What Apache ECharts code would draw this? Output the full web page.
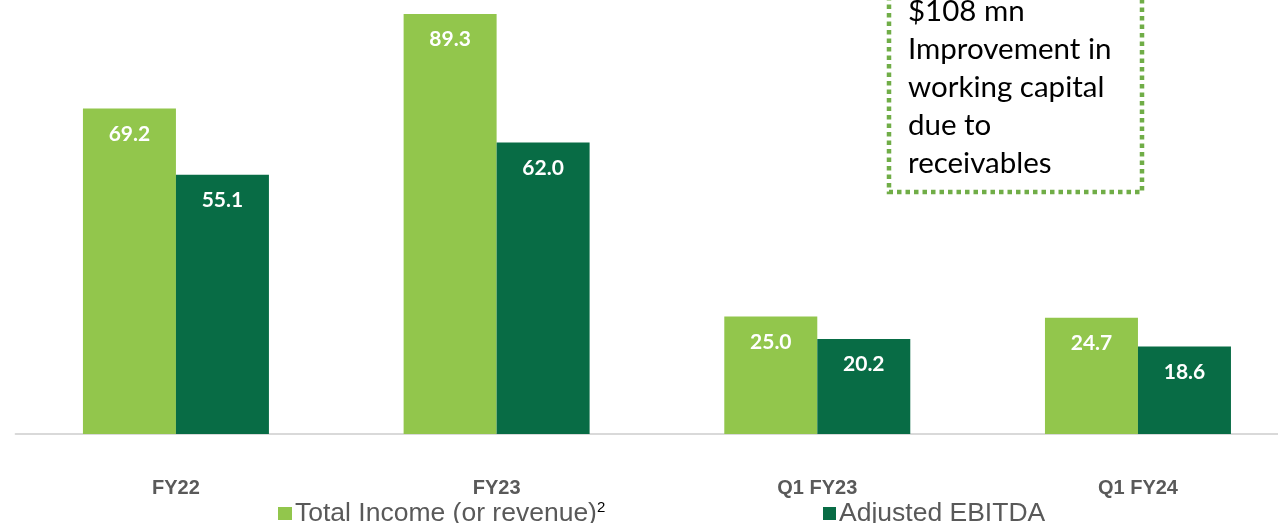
<!DOCTYPE html>
<html>
<head>
<meta charset="utf-8">
<script src="https://cdn.jsdelivr.net/npm/echarts@6/dist/echarts.min.js"></script>
<style>
  html, body { margin: 0; padding: 0; background: #fff; }
  #main { width: 1278px; height: 523px; }
</style>
</head>
<body>
<div id="main"></div>
<script>
// chart data
const categories = ['FY22', 'FY23', 'Q1 FY23', 'Q1 FY24'];
const totalIncome = [69.2, 89.3, 25.0, 24.7];
const adjustedEbitda = [55.1, 62.0, 20.2, 18.6];
const noteLines = ['$108 mn', 'Improvement in', 'working capital', 'due to', 'receivables'];

const lightGreen = '#92C64C';
const darkGreen = '#086C45';

const chart = echarts.init(document.getElementById('main'));

const barLabel = {
  show: true,
  position: 'insideTop',
  distance: 15,
  color: '#fff',
  fontFamily: 'Lato',
  fontWeight: 'bold',
  fontSize: 21,
  formatter: p => p.value.toFixed(1)
};

chart.setOption({
  animation: false,
  // plot area runs a bit past the right edge, like the original slide
  grid: { left: 15.6, width: 1282.7, top: 0, bottom: 89, containLabel: false, outerBoundsMode: 'none' },
  xAxis: {
    type: 'category',
    data: categories,
    axisLine: { lineStyle: { color: '#d9d9d9', width: 2 } },
    axisTick: { show: false },
    axisLabel: {
      margin: 44,
      color: '#595959',
      fontFamily: 'Liberation Sans',
      fontWeight: 'bold',
      fontSize: 20
    }
  },
  yAxis: {
    type: 'value',
    min: 0,
    max: 92.28,
    show: false,
    splitLine: { show: false }
  },
  legend: [
    {
      left: 273, top: 495,
      itemWidth: 14, itemHeight: 13, icon: 'rect', itemGap: 5,
      data: [{ name: 'Total Income (or revenue)' }],
      formatter: n => '{a|' + n + '}{s|2}',
      textStyle: {
        padding: [0, 0, 0, -2],
        rich: {
          a: { color: '#595959', fontFamily: 'Liberation Sans', fontSize: 26.5 },
          s: { color: '#000', fontFamily: 'Liberation Sans', fontSize: 15, verticalAlign: 'top', padding: [0, 0, 10, 0] }
        }
      }
    },
    {
      left: 818, top: 495,
      itemWidth: 13, itemHeight: 13, icon: 'rect',
      data: [{ name: 'Adjusted EBITDA' }],
      textStyle: { color: '#595959', fontFamily: 'Liberation Sans', fontSize: 26.5, padding: [0, 0, 0, -2] }
    }
  ],
  series: [
    {
      name: 'Total Income (or revenue)',
      type: 'bar',
      data: totalIncome,
      barGap: '0%',
      barCategoryGap: '42%',
      itemStyle: { color: lightGreen },
      label: barLabel
    },
    {
      name: 'Adjusted EBITDA',
      type: 'bar',
      data: adjustedEbitda,
      itemStyle: { color: darkGreen },
      label: barLabel
    }
  ],
  graphic: [
    {
      type: 'rect',
      shape: { x: 889, y: -20, width: 253, height: 212 },
      style: { fill: 'none', stroke: '#70AD47', lineWidth: 4.5, lineDash: [4.5, 4] }
    },
    {
      type: 'text',
      left: 908,
      top: -8,
      style: {
        text: noteLines.join('\n'),
        fill: '#000',
        fontFamily: 'Lato',
        fontSize: 29.5,
        lineHeight: 38
      }
    }
  ]
});
</script>
</body>
</html>
